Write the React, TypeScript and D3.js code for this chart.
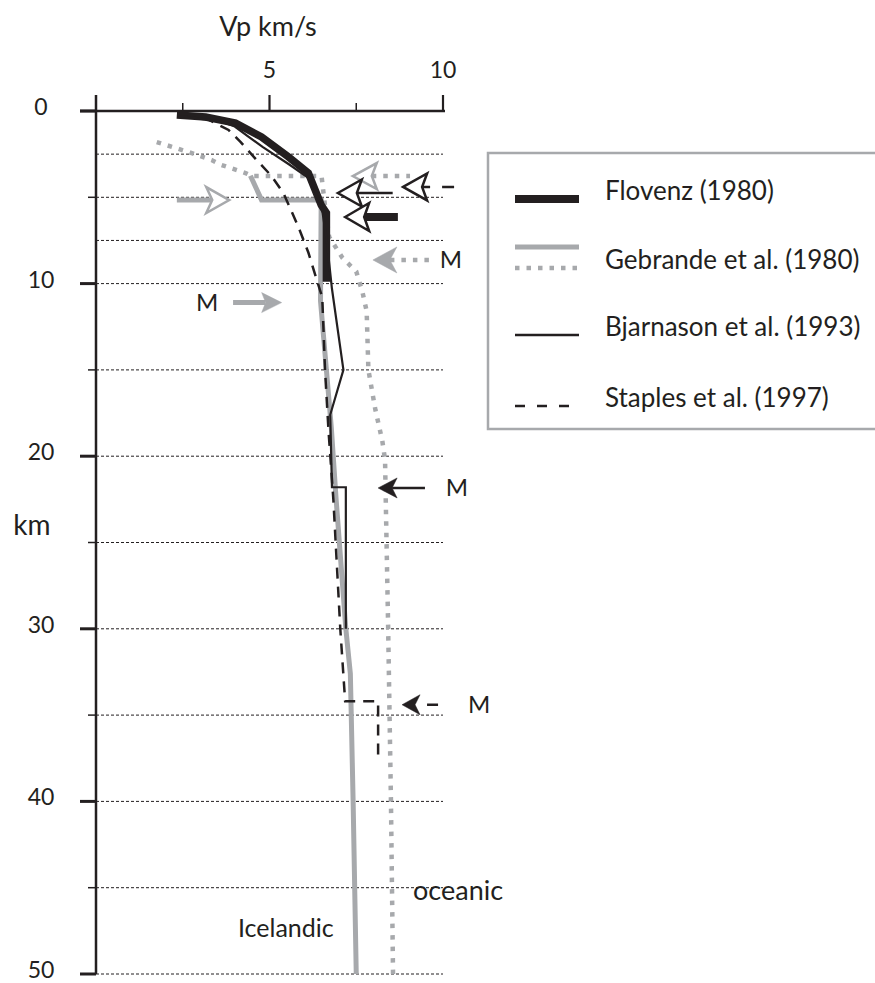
import React from "react";
import * as d3 from "d3";

// Vp profiles: each point is [Vp in km/s, depth in km]
type Pt = [number, number];

const flovenz: Pt[] = [
  [2.33, 0.23], [3.16, 0.35], [4.02, 0.7], [4.77, 1.5], [5.55, 2.67],
  [6.12, 3.6], [6.49, 5.45], [6.64, 5.9], [6.64, 9.9],
];

const bjarnason: Pt[] = [
  [2.4, 0.3], [3.6, 0.6], [4.0, 0.9], [4.4, 1.5], [4.8, 2.08], [5.59, 3.13],
  [6.17, 3.95], [6.5, 5.5], [6.65, 7.5], [6.8, 10.3], [7.13, 15], [6.75, 17.6],
  [6.8, 21.8], [7.2, 21.8], [7.2, 30],
];

const staples: Pt[] = [
  [3.1, 0.35], [3.82, 1.1], [4.17, 1.8], [4.63, 2.84], [5.06, 3.77], [5.4, 4.75],
  [5.83, 6.7], [6.12, 8.2], [6.35, 9.7], [6.52, 10.8], [6.6, 15], [6.7, 18.5],
  [6.84, 22.5], [7.04, 30], [7.18, 34.2], [8.13, 34.2], [8.13, 37.3],
];

const gebrandeIcelandic: Pt[] = [
  [4.45, 3.75], [4.77, 5.15], [6.49, 5.15], [6.47, 11], [6.78, 18.3],
  [6.92, 22.5], [7.2, 30], [7.33, 32.6], [7.41, 40], [7.5, 50],
];

const gebrandeOceanic: Pt[] = [
  [1.75, 1.8], [2.67, 2.38], [3.33, 2.84], [3.62, 3.13], [4.31, 3.6], [4.5, 3.77],
  [6.5, 3.77], [6.6, 5.5], [6.72, 7.3], [7.1, 8.5], [7.5, 9.3], [7.68, 10.5],
  [7.8, 11.6], [7.85, 15], [8.05, 17.3], [8.25, 19.1], [8.33, 20.2], [8.35, 22.5],
  [8.42, 30], [8.5, 40], [8.56, 50],
];

// Axis ticks
const vpTickLabels = [5, 10];
const vpMinorTicks = [2.5, 7.5];
const depthTickLabels = [0, 10, 20, 30, 40, 50];
const depthMinorTicks = [5, 15, 25, 35, 45];
const depthGrid = [2.5, 5, 7.5, 10, 15, 20, 25, 30, 35, 40, 45, 50];

// Layer-boundary / Moho pointers: depth (km), tip and tail velocities (km/s)
type Pointer = {
  depth: number;
  tip: number;
  tail: number;
  kind: string;
  label?: string;
  labelV?: number;
};
const pointers: Pointer[] = [
  { depth: 5.16, tip: 3.84, tail: 2.33, kind: "greyOpenRight" },
  { depth: 11.1, tip: 5.35, tail: 3.95, kind: "greyFilledRight", label: "M", labelV: 3.2 },
  { depth: 3.77, tip: 7.4, tail: 9.05, kind: "greyOpenDotted" },
  { depth: 4.75, tip: 6.97, tail: 8.55, kind: "blackOpenThin" },
  { depth: 4.4, tip: 8.85, tail: 10.32, kind: "blackOpenDashed" },
  { depth: 6.14, tip: 7.18, tail: 8.7, kind: "blackOpenThick" },
  { depth: 8.63, tip: 7.98, tail: 9.68, kind: "greyFilledDotted", label: "M", labelV: 10.23 },
  { depth: 21.84, tip: 8.13, tail: 9.48, kind: "blackFilledThin", label: "M", labelV: 10.4 },
  { depth: 34.4, tip: 8.82, tail: 10.2, kind: "blackFilledDashed", label: "M", labelV: 11.04 },
];

const legendItems = [
  { label: "Flovenz (1980)", y: 200 },
  { label: "Gebrande et al. (1980)", y: 269 },
  { label: "Bjarnason et al. (1993)", y: 336 },
  { label: "Staples et al. (1997)", y: 407 },
];

const BLACK = "#231f20";
const GREY = "#a7a9ac";
const FONT = "Lato, 'Open Sans', sans-serif";

const x = d3.scaleLinear().domain([0, 10]).range([96, 443]);
const y = d3.scaleLinear().domain([0, 50]).range([111, 974]);

const line = d3
  .line<Pt>()
  .x((d) => x(d[0]))
  .y((d) => y(d[1]));

type HeadStyle = {
  color: string;
  open: boolean;
  len: number;
  half: number;
  notch: number;
  shaftWidth: number;
  shaftDash?: string;
};

const headStyles: Record<string, HeadStyle> = {
  greyOpenRight: { color: GREY, open: true, len: 23, half: 13, notch: 17, shaftWidth: 5 },
  greyFilledRight: { color: GREY, open: false, len: 20, half: 10, notch: 16, shaftWidth: 5 },
  greyOpenDotted: { color: GREY, open: true, len: 24, half: 13, notch: 19, shaftWidth: 4.5, shaftDash: "4.5 7" },
  blackOpenThin: { color: BLACK, open: true, len: 24, half: 13.5, notch: 19, shaftWidth: 2.5 },
  blackOpenDashed: { color: BLACK, open: true, len: 24, half: 13.5, notch: 19, shaftWidth: 2.5, shaftDash: "8 12 12" },
  blackOpenThick: { color: BLACK, open: true, len: 24, half: 14, notch: 19, shaftWidth: 8 },
  greyFilledDotted: { color: GREY, open: false, len: 24, half: 13, notch: 17, shaftWidth: 4.5, shaftDash: "4.5 7" },
  blackFilledThin: { color: BLACK, open: false, len: 19, half: 10, notch: 14, shaftWidth: 2.5 },
  blackFilledDashed: { color: BLACK, open: false, len: 18, half: 10, notch: 13, shaftWidth: 2.5, shaftDash: "0 12 11 20" },
};

function PointerMark({ p }: { p: Pointer }) {
  const s = headStyles[p.kind];
  const tx = x(p.tip);
  const ty = y(p.depth);
  const dir = p.tail > p.tip ? -1 : 1; // -1 points left, +1 points right
  const wingX = tx - dir * s.len;
  const notchX = tx - dir * s.notch;
  const head = [
    [tx, ty],
    [wingX, ty - s.half],
    [notchX, ty],
    [wingX, ty + s.half],
  ]
    .map((q) => q.join(","))
    .join(" ");
  return (
    <g>
      <line
        x1={notchX}
        y1={ty}
        x2={x(p.tail)}
        y2={ty}
        stroke={s.color}
        strokeWidth={s.shaftWidth}
        strokeDasharray={s.shaftDash}
      />
      <polygon
        points={head}
        fill={s.open ? "#fff" : s.color}
        stroke={s.color}
        strokeWidth={s.open ? 2.5 : 0.5}
        strokeLinejoin="miter"
      />
      {p.label && (
        <text
          x={x(p.labelV as number)}
          y={ty + 8.5}
          textAnchor="middle"
          fontSize={24}
          fontFamily={FONT}
          fill={BLACK}
        >
          {p.label}
        </text>
      )}
    </g>
  );
}

export default function App() {
  return (
    <svg
      width={875}
      height={983}
      viewBox="0 0 875 983"
      style={{ position: "absolute", left: 0, top: 0, background: "#fff" }}
    >
      {/* dotted depth grid */}
      {depthGrid.map((d) => (
        <line
          key={"g" + d}
          x1={x(0)}
          x2={x(10)}
          y1={y(d)}
          y2={y(d)}
          stroke={BLACK}
          strokeWidth={1}
          strokeDasharray="3 2"
        />
      ))}

      {/* axes */}
      <line x1={80} x2={x(10) + 2} y1={y(0)} y2={y(0)} stroke={BLACK} strokeWidth={2.5} />
      <line x1={x(0)} x2={x(0)} y1={95} y2={y(50)} stroke={BLACK} strokeWidth={2.5} />
      {vpTickLabels.map((v) => (
        <g key={"vt" + v}>
          <line x1={x(v)} x2={x(v)} y1={95} y2={y(0)} stroke={BLACK} strokeWidth={2.2} />
          <text x={x(v)} y={78} textAnchor="middle" fontSize={23} fontFamily={FONT} fill={BLACK}>
            {v}
          </text>
        </g>
      ))}
      {vpMinorTicks.map((v) => (
        <line key={"vm" + v} x1={x(v)} x2={x(v)} y1={103} y2={y(0)} stroke={BLACK} strokeWidth={1.5} />
      ))}
      {depthTickLabels.map((d) => (
        <g key={"dt" + d}>
          <line x1={80} x2={x(0)} y1={y(d)} y2={y(d)} stroke={BLACK} strokeWidth={3} />
          <text x={41} y={y(d) + 4} textAnchor="middle" fontSize={23} fontFamily={FONT} fill={BLACK}>
            {d}
          </text>
        </g>
      ))}
      {depthMinorTicks.map((d) => (
        <line key={"dm" + d} x1={88} x2={x(0)} y1={y(d)} y2={y(d)} stroke={BLACK} strokeWidth={1.5} />
      ))}
      <text x={268} y={36} textAnchor="middle" fontSize={27} fontFamily={FONT} fill={BLACK}>
        Vp km/s
      </text>
      <text x={32} y={535} textAnchor="middle" fontSize={28} fontFamily={FONT} fill={BLACK}>
        km
      </text>

      {/* velocity profiles */}
      <path d={line(gebrandeOceanic) ?? ""} fill="none" stroke={GREY} strokeWidth={4.5} strokeDasharray="4.5 7" />
      <path d={line(gebrandeIcelandic) ?? ""} fill="none" stroke={GREY} strokeWidth={5} />
      <path d={line(staples) ?? ""} fill="none" stroke={BLACK} strokeWidth={2.5} strokeDasharray="11 8" />
      <path d={line(flovenz) ?? ""} fill="none" stroke={BLACK} strokeWidth={7.5} />
      <path d={line(bjarnason) ?? ""} fill="none" stroke={BLACK} strokeWidth={2.2} />

      {pointers.map((p, i) => (
        <PointerMark key={i} p={p} />
      ))}

      <text x={413} y={900} fontSize={27} fontFamily={FONT} fill={BLACK}>
        oceanic
      </text>
      <text x={238} y={937} fontSize={25} fontFamily={FONT} fill={BLACK}>
        Icelandic
      </text>

      {/* legend */}
      <rect x={488} y={153} width={400} height={276} fill="none" stroke={GREY} strokeWidth={2.5} />
      <line x1={515} x2={579} y1={199} y2={199} stroke={BLACK} strokeWidth={8} />
      <line x1={515} x2={579} y1={247} y2={247} stroke={GREY} strokeWidth={5} />
      <line x1={515} x2={579} y1={268} y2={268} stroke={GREY} strokeWidth={4.5} strokeDasharray="4.5 7" />
      <line x1={515} x2={579} y1={335} y2={335} stroke={BLACK} strokeWidth={2.5} />
      <line x1={515} x2={572} y1={406} y2={406} stroke={BLACK} strokeWidth={2.5} strokeDasharray="10 12" />
      {legendItems.map((it) => (
        <text key={it.label} x={605} y={it.y} fontSize={26} fontFamily={FONT} fill={BLACK}>
          {it.label}
        </text>
      ))}
    </svg>
  );
}
